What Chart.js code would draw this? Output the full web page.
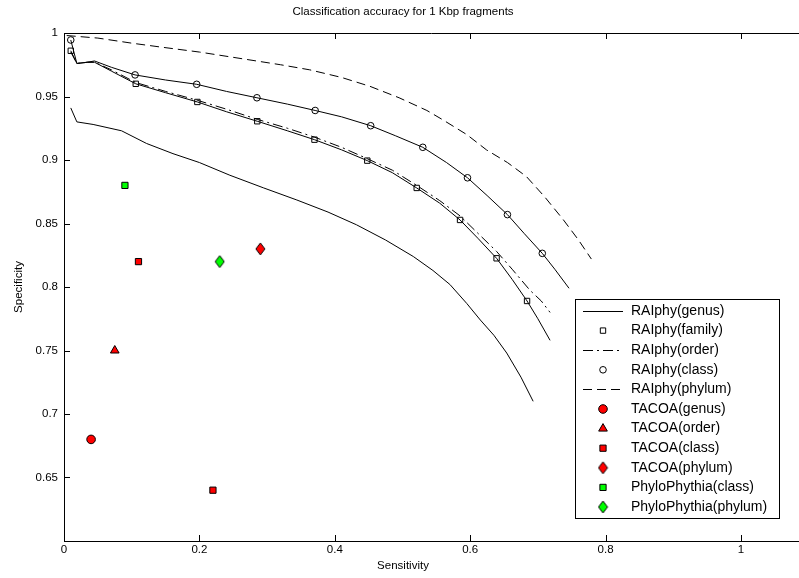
<!DOCTYPE html>
<html>
<head>
<meta charset="utf-8">
<title>Classification accuracy for 1 Kbp fragments</title>
<script src="https://cdn.jsdelivr.net/npm/chart.js@4.4.0/dist/chart.umd.min.js"></script>
<style>
  html, body { margin: 0; padding: 0; background: #fff; overflow: hidden; }
  #chart { display: block; }
</style>
</head>
<body>
<canvas id="chart" width="799" height="578"></canvas>
<script>
// Tick labels
const xTicks = [0, 0.2, 0.4, 0.6, 0.8, 1];
const yTicks = [0.65, 0.7, 0.75, 0.8, 0.85, 0.9, 0.95, 1];

// RAIphy curves (sensitivity, specificity)
const genusX = [0.010, 0.019, 0.043, 0.085, 0.122, 0.161, 0.200, 0.245, 0.295, 0.344, 0.390, 0.432, 0.475, 0.516, 0.545, 0.570, 0.595, 0.615, 0.635, 0.654, 0.675, 0.693];
const genusY = [0.941, 0.930, 0.928, 0.923, 0.913, 0.905, 0.898, 0.888, 0.878, 0.8685, 0.859, 0.849, 0.837, 0.824, 0.813, 0.802, 0.787, 0.774, 0.762, 0.748, 0.729, 0.710];

const familyX = [0.010, 0.019, 0.035, 0.045, 0.070, 0.106, 0.150, 0.197, 0.240, 0.2855, 0.330, 0.370, 0.410, 0.448, 0.485, 0.521, 0.555, 0.585, 0.612, 0.639, 0.662, 0.684, 0.700, 0.718];
const familyY = [0.986, 0.976, 0.977, 0.977, 0.970, 0.960, 0.953, 0.9457, 0.938, 0.9305, 0.923, 0.916, 0.908, 0.8995, 0.890, 0.878, 0.866, 0.8528, 0.838, 0.8226, 0.806, 0.789, 0.775, 0.758];
const familyMarkX = [0.010, 0.106, 0.197, 0.2855, 0.370, 0.448, 0.521, 0.585, 0.639, 0.684];
const familyMarkY = [0.986, 0.960, 0.9457, 0.9305, 0.916, 0.8995, 0.878, 0.8528, 0.8226, 0.789];

const orderX = [0.010, 0.019, 0.035, 0.045, 0.070, 0.106, 0.150, 0.197, 0.240, 0.2855, 0.330, 0.370, 0.410, 0.448, 0.485, 0.521, 0.555, 0.585, 0.612, 0.639, 0.662, 0.688, 0.705, 0.718];
const orderY = [0.985, 0.976, 0.977, 0.977, 0.971, 0.961, 0.954, 0.947, 0.940, 0.932, 0.925, 0.918, 0.910, 0.901, 0.892, 0.880, 0.868, 0.856, 0.842, 0.828, 0.814, 0.7976, 0.789, 0.780];

const classX = [0.010, 0.019, 0.035, 0.045, 0.070, 0.105, 0.150, 0.196, 0.240, 0.285, 0.330, 0.371, 0.410, 0.453, 0.490, 0.530, 0.565, 0.596, 0.625, 0.655, 0.680, 0.7065, 0.725, 0.746];
const classY = [0.9945, 0.976, 0.977, 0.978, 0.973, 0.967, 0.963, 0.9596, 0.954, 0.949, 0.944, 0.939, 0.934, 0.927, 0.919, 0.910, 0.898, 0.886, 0.872, 0.857, 0.842, 0.8265, 0.814, 0.799];
const classMarkX = [0.010, 0.105, 0.196, 0.285, 0.371, 0.453, 0.530, 0.596, 0.655, 0.7065];
const classMarkY = [0.9945, 0.967, 0.9596, 0.949, 0.939, 0.927, 0.910, 0.886, 0.857, 0.8265];

const phylumX = [0.004, 0.050, 0.100, 0.142, 0.200, 0.260, 0.320, 0.363, 0.410, 0.452, 0.495, 0.536, 0.560, 0.595, 0.624, 0.655, 0.683, 0.710, 0.7375, 0.760, 0.779];
const phylumY = [0.998, 0.996, 0.992, 0.989, 0.985, 0.980, 0.975, 0.971, 0.965, 0.958, 0.949, 0.939, 0.9315, 0.920, 0.908, 0.898, 0.887, 0.871, 0.853, 0.837, 0.822];

// Other tools (single results)
const tacoaGenusX = [0.04],  tacoaGenusY = [0.68];
const tacoaOrderX = [0.075], tacoaOrderY = [0.75];
const tacoaClassX = [0.11, 0.22], tacoaClassY = [0.82, 0.64];
const tacoaPhylumX = [0.29], tacoaPhylumY = [0.83];
const phyloClassX = [0.09],  phyloClassY = [0.88];
const phyloPhylumX = [0.23], phyloPhylumY = [0.82];

const FONT = '"Liberation Sans", Arial, sans-serif';
const RED = '#ff0000';
const GREEN = '#00ff00';
const DASH = [9, 5];
const DASHDOT = [10, 4, 2, 4];

function pts(xs, ys) {
  return xs.map((x, i) => ({ x, y: ys[i] }));
}

// taller-than-wide diamond like matlab's 'd' marker
function makeDiamond(fill) {
  const w = 9, h = 12;
  const c = document.createElement('canvas');
  c.width = w + 2; c.height = h + 2;
  const g = c.getContext('2d');
  g.beginPath();
  g.moveTo(1 + w / 2, 1);
  g.lineTo(1 + w, 1 + h / 2);
  g.lineTo(1 + w / 2, 1 + h);
  g.lineTo(1, 1 + h / 2);
  g.closePath();
  g.fillStyle = fill;
  g.fill();
  g.strokeStyle = '#000';
  g.lineWidth = 1;
  g.stroke();
  return c;
}

function curve(label, xs, ys, dash) {
  return {
    label, data: pts(xs, ys), showLine: true, borderColor: '#000', borderWidth: 1,
    borderDash: dash, pointRadius: 0, tension: 0
  };
}

function markers(label, xs, ys, style, radius, fill) {
  return {
    label, data: pts(xs, ys), showLine: false, pointStyle: style, pointRadius: radius,
    pointBackgroundColor: fill, pointBorderColor: '#000', pointBorderWidth: 1
  };
}

const datasets = [
  curve('RAIphy(genus)', genusX, genusY, []),
  curve('', familyX, familyY, []),
  markers('RAIphy(family)', familyMarkX, familyMarkY, 'rect', 3.8, 'rgba(0,0,0,0)'),
  curve('RAIphy(order)', orderX, orderY, DASHDOT),
  curve('', classX, classY, []),
  markers('RAIphy(class)', classMarkX, classMarkY, 'circle', 3.3, 'rgba(0,0,0,0)'),
  curve('RAIphy(phylum)', phylumX, phylumY, DASH),
  markers('TACOA(genus)', tacoaGenusX, tacoaGenusY, 'circle', 4.3, RED),
  markers('TACOA(order)', tacoaOrderX, tacoaOrderY, 'triangle', 5, RED),
  markers('TACOA(class)', tacoaClassX, tacoaClassY, 'rect', 4.4, RED),
  markers('TACOA(phylum)', tacoaPhylumX, tacoaPhylumY, makeDiamond(RED), 5, RED),
  markers('PhyloPhythia(class)', phyloClassX, phyloClassY, 'rect', 4.4, GREEN),
  markers('PhyloPhythia(phylum)', phyloPhylumX, phyloPhylumY, makeDiamond(GREEN), 5, GREEN)
];

// top border, inward ticks and the x label (centred like the title)
const frame = {
  id: 'frame',
  afterDraw(chart) {
    const { ctx, chartArea: a, scales: { x, y } } = chart;
    ctx.save();
    ctx.strokeStyle = '#000';
    ctx.lineWidth = 1;
    ctx.beginPath();
    ctx.moveTo(a.left, a.top + 0.5);
    ctx.lineTo(a.right, a.top + 0.5);
    xTicks.forEach(v => {
      const px = Math.round(x.getPixelForValue(v)) + 0.5;
      ctx.moveTo(px, a.bottom); ctx.lineTo(px, a.bottom - 6);
      ctx.moveTo(px, a.top); ctx.lineTo(px, a.top + 6);
    });
    yTicks.forEach(v => {
      const py = Math.round(y.getPixelForValue(v)) + 0.5;
      ctx.moveTo(a.left, py); ctx.lineTo(a.left + 6, py);
    });
    ctx.stroke();
    ctx.fillStyle = '#000';
    ctx.font = '11.5px ' + FONT;
    ctx.textAlign = 'center';
    ctx.textBaseline = 'middle';
    ctx.fillText('Sensitivity', 403, 566);
    ctx.restore();
  }
};

// boxed legend in the lower right, as in the matlab figure
const boxLegend = {
  id: 'boxLegend',
  afterDraw(chart) {
    const ctx = chart.ctx;
    const bx = 575, by = 299, bw = 204, bh = 219;
    const rowTop = 311, rowGap = 19.6;
    ctx.save();
    ctx.fillStyle = '#fff';
    ctx.fillRect(bx, by, bw, bh);
    ctx.strokeStyle = '#000';
    ctx.lineWidth = 1;
    ctx.strokeRect(bx + 0.5, by + 0.5, bw, bh);
    const items = chart.data.datasets.filter(d => d.label);
    items.forEach((d, i) => {
      const ry = rowTop + i * rowGap;
      if (d.showLine) {
        ctx.strokeStyle = d.borderColor;
        ctx.lineWidth = d.borderWidth;
        ctx.setLineDash(d.borderDash || []);
        ctx.beginPath();
        ctx.moveTo(583, Math.round(ry) + 0.5);
        ctx.lineTo(623, Math.round(ry) + 0.5);
        ctx.stroke();
        ctx.setLineDash([]);
      }
      if (d.pointRadius > 0) {
        ctx.fillStyle = d.pointBackgroundColor;
        ctx.strokeStyle = d.pointBorderColor;
        ctx.lineWidth = d.pointBorderWidth;
        Chart.helpers.drawPoint(ctx, {
          pointStyle: d.pointStyle, radius: d.pointRadius, rotation: 0, borderWidth: d.pointBorderWidth
        }, 603, ry);
      }
      ctx.fillStyle = '#000';
      ctx.font = '14px ' + FONT;
      ctx.textAlign = 'left';
      ctx.textBaseline = 'middle';
      ctx.fillText(d.label, 631, ry);
    });
    ctx.restore();
  }
};

Chart.defaults.font.family = FONT;
Chart.defaults.color = '#000';

new Chart(document.getElementById('chart'), {
  type: 'scatter',
  data: { datasets },
  options: {
    responsive: false,
    animation: false,
    events: [],
    layout: { autoPadding: false, padding: { left: 7, right: 0, top: 0, bottom: 0 } },
    plugins: {
      legend: { display: false },
      tooltip: { enabled: false },
      title: {
        display: true,
        text: 'Classification accuracy for 1 Kbp fragments',
        color: '#000',
        font: { size: 11.5, weight: 'normal' },
        padding: { top: 5, bottom: 14.2 }
      }
    },
    scales: {
      x: {
        type: 'linear',
        min: 0,
        max: 1.0857,
        afterBuildTicks: s => { s.ticks = xTicks.map(v => ({ value: v })); },
        afterFit: s => { s.height = 37; },
        border: { display: true, color: '#000', width: 1 },
        grid: { drawOnChartArea: false, drawTicks: false },
        ticks: { autoSkip: false, maxRotation: 0, padding: 2, font: { size: 11.5 }, callback: v => String(v) }
      },
      y: {
        type: 'linear',
        min: 0.6,
        max: 1,
        afterBuildTicks: s => { s.ticks = yTicks.map(v => ({ value: v })); },
        afterFit: s => { s.width = 57; },
        border: { display: true, color: '#000', width: 1 },
        grid: { drawOnChartArea: false, drawTicks: false },
        ticks: { autoSkip: false, padding: 6, font: { size: 11.5 }, callback: v => String(v) },
        title: { display: true, text: 'Specificity', font: { size: 11.5 }, padding: { top: 5, bottom: 0 } }
      }
    }
  },
  plugins: [frame, boxLegend]
});
</script>
</body>
</html>
